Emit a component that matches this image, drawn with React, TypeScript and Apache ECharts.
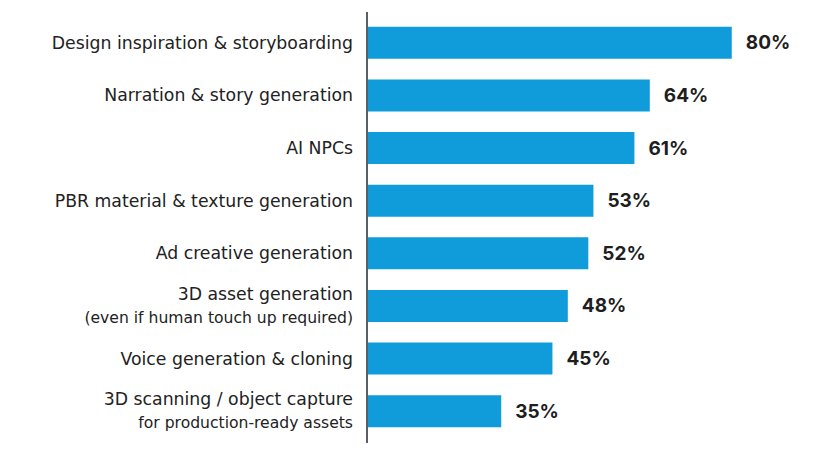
import React, { useEffect, useRef } from "react";
import * as echarts from "echarts";

const categories = [
  "Design inspiration & storyboarding",
  "Narration & story generation",
  "AI NPCs",
  "PBR material & texture generation",
  "Ad creative generation",
  "3D asset generation\n(even if human touch up required)",
  "Voice generation & cloning",
  "3D scanning / object capture\nfor production-ready assets",
];
const values = [80, 64, 61, 53, 52, 48, 45, 35];

export default function App() {
  const ref = useRef<HTMLDivElement>(null);
  useEffect(() => {
    if (!ref.current) return;
    const chart = echarts.init(ref.current, null, { renderer: "svg" });
    const font = "Inter, 'Noto Sans', sans-serif";
    const catFont = "'DejaVu Sans', sans-serif";
    chart.setOption({
      animation: false,
      backgroundColor: "#ffffff",
      grid: { left: 368, top: 16.5, width: 415, height: 421, containLabel: false },
      xAxis: {
        type: "value",
        min: 9,
        max: 90,
        show: false,
      },
      yAxis: {
        type: "category",
        inverse: true,
        data: categories,
        axisLine: { show: false },
        axisTick: { show: false },
        axisLabel: {
          margin: 15,
          fontFamily: catFont,
          color: "#222222",
          formatter: (v: string) => {
            const parts = v.split("\n");
            if (parts.length === 1) return `{a|${parts[0]}}`;
            return `{a|${parts[0]}}\n{b|${parts[1]}}`;
          },
          rich: {
            a: { fontSize: 17.3, fontFamily: catFont, color: "#222222", lineHeight: 24, align: "right" },
            b: { fontSize: 15.6, fontFamily: catFont, color: "#222222", lineHeight: 24, align: "right" },
          },
        },
      },
      series: [
        {
          type: "bar",
          data: values,
          barWidth: 32,
          itemStyle: { color: "#109cdb" },
          label: {
            show: true,
            position: "right",
            distance: 14,
            formatter: "{c}%",
            fontFamily: font,
            fontWeight: "bold",
            fontSize: 19,
            color: "#1e1e1e",
          },
        },
      ],
      graphic: [
        {
          type: "line",
          shape: { x1: 367, y1: 12, x2: 367, y2: 443 },
          style: { stroke: "#5a5f66", lineWidth: 2 },
        },
      ],
    });
    return () => chart.dispose();
  }, []);
  return (
    <div
      ref={ref}
      style={{ position: "fixed", left: 0, top: 0, width: 827, height: 468, background: "#fff" }}
    />
  );
}
